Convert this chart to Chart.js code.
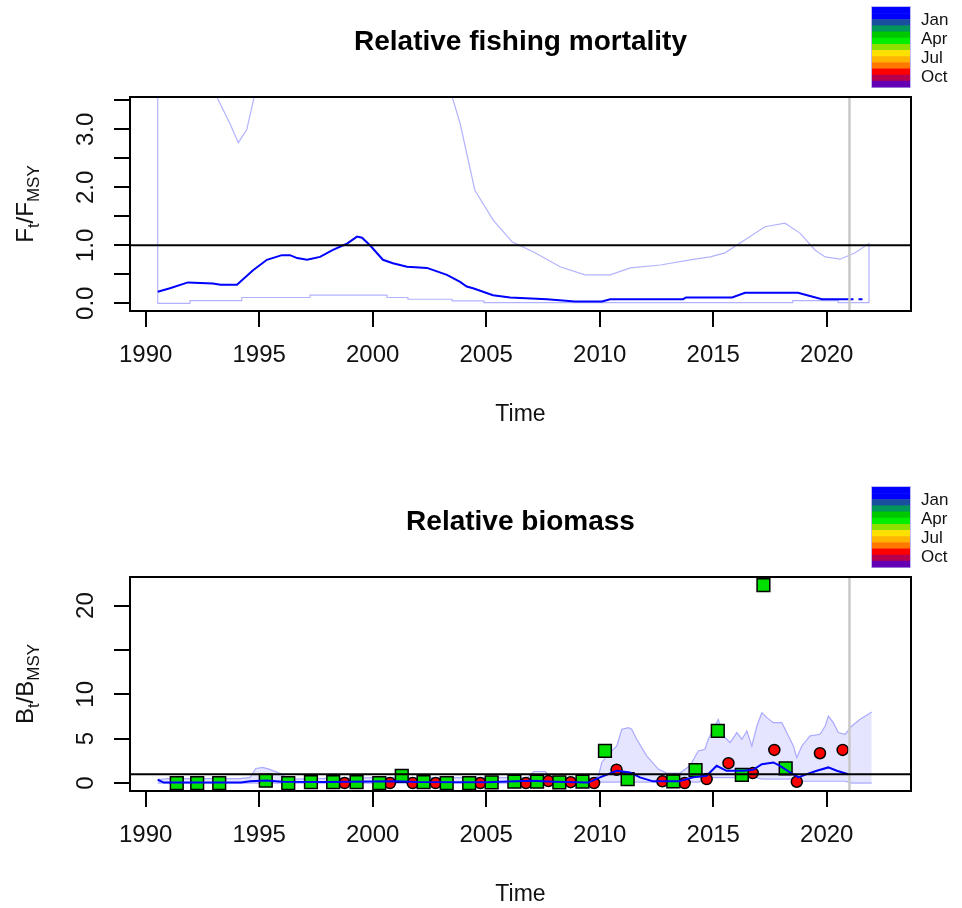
<!DOCTYPE html>
<html>
<head>
<meta charset="utf-8">
<script src="https://cdn.jsdelivr.net/npm/chart.js@4.4.1/dist/chart.umd.min.js"></script>
<style>
  body { margin: 0; background: #fff; }
  .panel { position: absolute; left: 0; width: 962px; }
  canvas { display: block; }
</style>
</head>
<body>
<div class="panel" style="top:0;height:480px"><canvas id="fChart" width="962" height="480"></canvas></div>
<div class="panel" style="top:480px;height:428px"><canvas id="bChart" width="962" height="428"></canvas></div>
<script>
// ---- relative fishing mortality F/Fmsy ----
const fTime = [1990.53, 1991.07, 1991.86, 1992.96, 1993.3, 1994.02, 1994.73, 1995.34, 1996.0, 1996.36, 1996.67,
    1997.11, 1997.68, 1998.25, 1998.87, 1999.31, 1999.53, 1999.88, 2000.45, 2000.89, 2001.51, 2002.39, 2003.27,
    2003.85, 2004.14, 2004.42, 2005.3, 2006.05, 2007.68, 2008.91, 2010.1, 2010.46, 2013.67, 2013.8, 2015.83,
    2016.4, 2018.73, 2019.26, 2019.79, 2021.0];
const fRel = [0.20, 0.26, 0.36, 0.34, 0.32, 0.32, 0.57, 0.75, 0.83, 0.83, 0.78,
    0.75, 0.80, 0.92, 1.03, 1.15, 1.13, 1.00, 0.75, 0.69, 0.63, 0.61, 0.49,
    0.37, 0.29, 0.26, 0.14, 0.10, 0.07, 0.03, 0.03, 0.07, 0.07, 0.10, 0.10,
    0.18, 0.18, 0.125, 0.07, 0.07];
const fPredTime = [2021.0, 2021.75];
const fPred = [0.07, 0.07];

const fUpTime = [1990.53, 1992.5, 1993.13, 1993.71, 1994.08, 1994.45, 1994.78, 1995.5, 2002.5, 2003.5, 2003.85,
    2004.5, 2005.3, 2006.14, 2007.15, 2008.25, 2009.35, 2010.46, 2011.35, 2012.67, 2013.98, 2014.86, 2015.52,
    2016.18, 2017.28, 2018.16, 2018.82, 2019.48, 2019.93, 2020.59, 2021.25, 2021.86];
const fUp = [40, 6, 3.56, 3.10, 2.77, 2.99, 3.56, 6, 6, 3.56, 3.10,
    1.95, 1.44, 1.06, 0.87, 0.63, 0.49, 0.49, 0.61, 0.66, 0.75, 0.80, 0.87,
    1.04, 1.32, 1.38, 1.21, 0.92, 0.80, 0.76, 0.87, 1.03];
const fLoTime = [1990.53, 1991.95, 1994.23, 1997.24, 2000.63, 2001.55, 2003.5, 2004.9, 2018.5, 2020.5, 2021.86];
const fLo = [0.0, 0.045, 0.10, 0.14, 0.10, 0.07, 0.04, 0.01, 0.045, 0.01, 0.01];

// ---- relative biomass B/Bmsy ----
const bTime = [1990.53, 1990.8, 1994.2, 1994.6, 1995.3, 1996.0, 1998.0, 2001.0, 2002.0, 2005.0, 2007.0, 2008.0,
    2009.5, 2010.01, 2010.75, 2011.33, 2011.77, 2012.35, 2013.5, 2014.11, 2014.71, 2015.15, 2015.59, 2016.33,
    2016.75, 2017.14, 2017.65, 2017.94, 2018.38, 2018.75, 2019.12, 2019.56, 2020.07, 2020.44, 2020.95];
const bRel = [0.37, 0.05, 0.05, 0.20, 0.30, 0.15, 0.12, 0.20, 0.12, 0.10, 0.25, 0.15,
    0.05, 0.64, 1.38, 1.20, 0.64, 0.19, 0.20, 0.64, 0.82, 1.94, 1.38, 1.38,
    1.50, 2.13, 2.32, 1.94, 1.20, 0.64, 1.00, 1.38, 1.76, 1.38, 1.00];

const bCiTime = [1990.53, 1991.0, 1994.16, 1994.6, 1994.85, 1995.15, 1995.44, 1995.88, 1996.32, 2000.0, 2006.8,
    2007.1, 2007.6, 2007.9, 2009.7, 2009.94, 2010.09, 2010.31, 2010.75, 2010.97, 2011.26, 2011.41, 2011.63,
    2012.07, 2012.58, 2012.95, 2013.53, 2013.97, 2014.34, 2014.63, 2014.78, 2015.0, 2015.22, 2015.45, 2015.74,
    2016.04, 2016.26, 2016.48, 2016.7, 2016.92, 2017.14, 2017.36, 2017.65, 2018.02, 2018.24, 2018.53, 2018.68,
    2018.9, 2019.26, 2019.7, 2019.93, 2020.07, 2020.29, 2020.51, 2020.81, 2021.1, 2021.47, 2021.98];
const bUp = [0.40, 0.50, 0.50, 0.64, 1.64, 1.76, 1.57, 1.12, 0.45, 0.60, 0.60,
    1.30, 1.30, 0.60, 0.50, 0.82, 2.32, 3.06, 4.18, 6.06, 6.25, 6.06, 4.94,
    3.06, 1.57, 1.12, 1.12, 1.94, 3.62, 3.81, 4.94, 6.06, 7.18, 5.31, 4.57,
    5.69, 4.94, 5.87, 4.18, 6.43, 7.93, 7.37, 6.81, 6.81, 5.69, 4.18, 2.88,
    4.18, 5.31, 5.50, 6.43, 7.55, 6.81, 5.69, 5.50, 6.43, 7.18, 8.00];
const bLo = [0.0, 0.0, 0.0, 0.0, 0.0, 0.0, 0.0, 0.0, 0.0, 0.0, 0.0,
    0.0, 0.0, 0.0, 0.0, 0.1, 0.1, 0.1, 0.1, 0.1, 0.1, 0.1, 0.1,
    0.1, 0.1, 0.1, 0.1, 0.1, 0.1, 0.3, 0.6, 0.6, 0.6, 0.6, 0.6,
    0.6, 0.6, 0.6, 0.6, 0.6, 0.45, 0.45, 0.45, 0.45, 0.45, 0.45, 0.2,
    0.2, 0.2, 0.2, 0.2, 0.2, 0.2, 0.2, 0.2, 0.0, 0.0, 0.0];

// survey index observations (April = green squares, October = red circles)
const aprTime = [1991.37, 1992.27, 1993.24, 1995.29, 1996.28, 1997.28, 1998.26, 1999.29, 2000.29, 2001.28, 2002.24,
    2003.26, 2004.25, 2005.24, 2006.24, 2007.24, 2008.22, 2009.24, 2010.23, 2011.23, 2013.24, 2014.22, 2015.2,
    2016.26, 2017.21, 2018.19];
const aprIdx = [0, 0, 0, 0.26, 0, 0.1, 0.1, 0.1, 0, 0.8, 0.1,
    0, 0, 0.08, 0.15, 0.15, 0.08, 0.15, 3.62, 0.45, 0.19, 1.46, 5.87,
    0.93, 22.3, 1.64];
const octTime = [1998.76, 2000.76, 2001.76, 2002.77, 2004.74, 2006.75, 2007.74, 2008.72, 2009.75, 2010.74,
    2012.76, 2013.74, 2014.71, 2015.67, 2016.74, 2017.69, 2018.68, 2019.7, 2020.7];
const octIdx = [0, 0, 0, 0, 0, 0, 0.22, 0.1, 0, 1.5,
    0.19, 0, 0.45, 2.24, 1.12, 3.73, 0.15, 3.36, 3.73];

// axes / reference marks
const refLevel = 1;
const lastObsYear = 2021;
const fYLabelValues = [0, 1, 2, 3];
const fYLabels = ['0.0', '1.0', '2.0', '3.0'];
const bYLabelValues = [0, 5, 10, 20];
const bYLabels = ['0', '5', '10', '20'];
const monthLabels = ['Jan', 'Apr', 'Jul', 'Oct'];
const legendColors = ['#0000ff', '#0000ff', '#1a4fa0', '#00985a', '#00c800', '#00ee00', '#8ee000',
    '#ffe000', '#ffb400', '#ff7800', '#ff0000', '#b4004e', '#6400b4'];

const FONT = "'Liberation Sans', Arial, sans-serif";
const ciLine = 'rgba(0,0,255,0.3)';

function pts(xs, ys) {
    return xs.map((t, i) => ({x: t, y: ys[i]}));
}

function decor(cfg) {
    return {
        id: 'decor',
        afterDatasetsDraw(chart) {
            const {ctx, chartArea: a, scales: {x, y}} = chart;
            ctx.save();
            const vx = x.getPixelForValue(lastObsYear);
            ctx.strokeStyle = '#c8c8c8';
            ctx.lineWidth = 2.5;
            ctx.beginPath(); ctx.moveTo(vx, a.top); ctx.lineTo(vx, a.bottom); ctx.stroke();
            const hy = y.getPixelForValue(refLevel);
            ctx.strokeStyle = '#000';
            ctx.lineWidth = 2;
            ctx.beginPath(); ctx.moveTo(a.left, hy); ctx.lineTo(a.right, hy); ctx.stroke();
            ctx.strokeRect(a.left, a.top, a.right - a.left, a.bottom - a.top);
            ctx.restore();
        },
        afterDraw(chart) {
            const {ctx, chartArea: a, scales: {y}} = chart;
            const cx = (a.left + a.right) / 2;
            ctx.save();
            ctx.fillStyle = '#000';
            // title
            ctx.font = 'bold 28px ' + FONT;
            ctx.textAlign = 'center';
            ctx.textBaseline = 'alphabetic';
            ctx.fillText(cfg.title, cx, 50);
            // x axis title
            ctx.font = '23px ' + FONT;
            ctx.fillStyle = '#111';
            ctx.fillText('Time', cx, 421);
            // y tick labels (rotated like R)
            ctx.font = '24px ' + FONT;
            cfg.yValues.forEach((v, i) => {
                ctx.save();
                ctx.translate(93, y.getPixelForValue(v));
                ctx.rotate(-Math.PI / 2);
                ctx.fillText(cfg.yLabels[i], 0, 0);
                ctx.restore();
            });
            // y axis title with subscripts
            const parts = [[cfg.sym, 24, 0], ['t', 17, 6], ['/', 24, 0], [cfg.sym, 24, 0], ['MSY', 17, 6]];
            let total = 0;
            parts.forEach(p => { ctx.font = p[1] + 'px ' + FONT; total += ctx.measureText(p[0]).width; });
            ctx.save();
            ctx.translate(33, (a.top + a.bottom) / 2);
            ctx.rotate(-Math.PI / 2);
            ctx.textAlign = 'left';
            let pos = -total / 2;
            parts.forEach(p => {
                ctx.font = p[1] + 'px ' + FONT;
                ctx.fillText(p[0], pos, p[2]);
                pos += ctx.measureText(p[0]).width;
            });
            ctx.restore();
            // month colour legend
            const bh = 80 / legendColors.length;
            legendColors.forEach((c, i) => {
                ctx.fillStyle = c;
                ctx.fillRect(872, 7 + i * bh, 38, bh + 0.5);
            });
            ctx.strokeStyle = 'rgba(120,100,230,0.45)';
            ctx.lineWidth = 1;
            ctx.strokeRect(871.5, 6.5, 39, 81);
            ctx.fillStyle = '#111';
            ctx.font = '17px ' + FONT;
            ctx.textAlign = 'left';
            monthLabels.forEach((m, i) => ctx.fillText(m, 921, 25 + i * 19));
            ctx.restore();
        }
    };
}

function baseOptions(yMin, yMax, yStep, H) {
    const axisGrid = {drawOnChartArea: false, drawTicks: true, tickLength: 16, color: '#000', lineWidth: 2};
    return {
        responsive: false,
        animation: false,
        events: [],
        layout: {padding: {top: 97, right: 51, left: 0, bottom: 0}},
        plugins: {legend: {display: false}, tooltip: {enabled: false}},
        scales: {
            x: {
                type: 'linear', min: 1989.31, max: 2023.71,
                afterFit: s => { s.height = H - 311; },
                grid: axisGrid,
                border: {display: false},
                ticks: {
                    stepSize: 5, includeBounds: false, padding: 14, maxRotation: 0, autoSkip: false,
                    color: '#111', font: {family: FONT, size: 24},
                    callback: v => String(v)
                }
            },
            y: {
                type: 'linear', min: yMin, max: yMax,
                afterFit: s => { s.width = 130; },
                grid: axisGrid,
                border: {display: false},
                ticks: {stepSize: yStep, includeBounds: false, display: false}
            }
        }
    };
}

// top: F / Fmsy
const fUpper = [{x: fLoTime[0], y: fLo[0]}, ...pts(fUpTime, fUp),
    {x: fLoTime[fLoTime.length - 1], y: fLo[fLo.length - 1]}];

new Chart(document.getElementById('fChart'), {
    type: 'line',
    data: {
        datasets: [
            {data: pts(fTime, fRel), borderColor: '#0000ff', borderWidth: 2, pointRadius: 0, order: 1},
            {data: pts(fPredTime, fPred), borderColor: '#0000ff', borderWidth: 2, borderDash: [4, 5], pointRadius: 0, order: 1},
            {data: fUpper, borderColor: ciLine, borderWidth: 1.2, pointRadius: 0, order: 4},
            {data: pts(fLoTime, fLo), borderColor: ciLine, borderWidth: 1.2, pointRadius: 0, stepped: true, order: 4}
        ]
    },
    options: baseOptions(-0.133, 3.557, 0.5, 480),
    plugins: [decor({title: 'Relative fishing mortality', sym: 'F', yValues: fYLabelValues, yLabels: fYLabels})]
});

// bottom: B / Bmsy
new Chart(document.getElementById('bChart'), {
    type: 'line',
    data: {
        datasets: [
            {data: pts(bTime, bRel), borderColor: '#0000ff', borderWidth: 2, pointRadius: 0, order: 1},
            {data: pts(aprTime, aprIdx), showLine: false, pointStyle: 'rect', pointRadius: 9,
                pointBackgroundColor: '#00e000', pointBorderColor: '#000', pointBorderWidth: 1.5, order: 2},
            {data: pts(octTime, octIdx), showLine: false, pointStyle: 'circle', pointRadius: 5.5,
                pointBackgroundColor: '#ff0000', pointBorderColor: '#000', pointBorderWidth: 1.5, order: 3},
            {data: pts(bCiTime, bUp), borderColor: ciLine, borderWidth: 1.2, pointRadius: 0,
                fill: '+1', backgroundColor: 'rgba(0,0,255,0.1)', order: 5},
            {data: pts(bCiTime, bLo), borderColor: ciLine, borderWidth: 1.2, pointRadius: 0, order: 6}
        ]
    },
    options: baseOptions(-0.897, 23.22, 5, 428),
    plugins: [decor({title: 'Relative biomass', sym: 'B', yValues: bYLabelValues, yLabels: bYLabels})]
});
</script>
</body>
</html>
